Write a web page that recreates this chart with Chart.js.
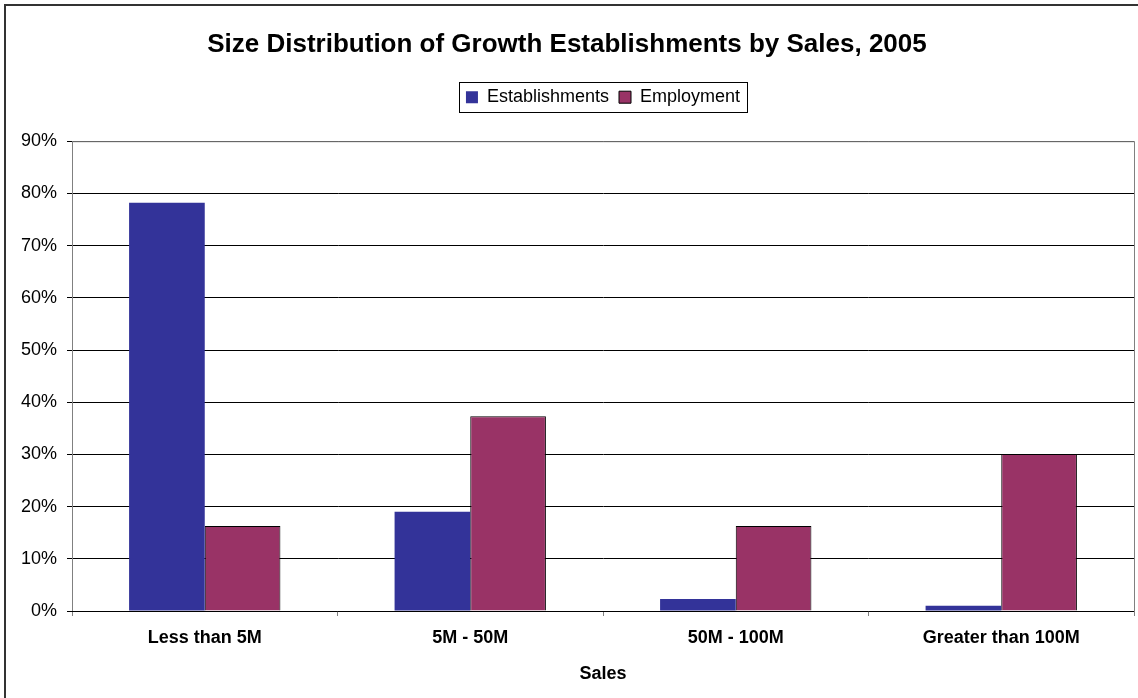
<!DOCTYPE html>
<html>
<head>
<meta charset="utf-8">
<script src="https://cdn.jsdelivr.net/npm/chart.js@4/dist/chart.umd.min.js"></script>
<style>
    body { margin: 0; background: #fff; }
    #wrap { width: 1138px; height: 698px; }
</style>
</head>
<body>
<div id="wrap"><canvas id="salesChart"></canvas></div>
<script>
const categories = ['Less than 5M', '5M - 50M', '50M - 100M', 'Greater than 100M'];
const establishments = [78.2, 19.0, 2.3, 1.0];
const employment = [16.3, 37.3, 16.3, 30.1];
const yTicks = [0, 10, 20, 30, 40, 50, 60, 70, 80, 90];

Chart.defaults.font.family = '"Liberation Sans", Arial, sans-serif';
Chart.defaults.color = '#000';

// frame around the whole chart, the plot area and the legend
const framePlugin = {
    id: 'frames',
    afterInit(chart) {
        const legend = chart.legend;
        const origFit = legend.fit;
        legend.fit = function () {
            origFit.call(this);
            this.height += 25; // gap between legend and plot
        };
    },
    afterLayout(chart) {
        // legend sits a bit right of centre in the original
        chart.legend.left += 36;
        chart.legend.right += 36;
    },
    afterDraw(chart) {
        const ctx = chart.ctx;
        const area = chart.chartArea;
        ctx.save();
        // plot area border
        ctx.strokeStyle = '#808080';
        ctx.lineWidth = 1;
        ctx.strokeRect(area.left + 0.5, area.top + 0.5, area.right - area.left, area.bottom - area.top);
        // zero line
        ctx.strokeStyle = '#000';
        ctx.beginPath();
        ctx.moveTo(area.left, area.bottom + 0.5);
        ctx.lineTo(area.right, area.bottom + 0.5);
        ctx.stroke();
        // legend box
        const boxes = chart.legend.legendHitBoxes;
        if (boxes && boxes.length) {
            const first = boxes[0];
            const last = boxes[boxes.length - 1];
            const x0 = first.left - 7;
            const x1 = last.left + last.width + 7;
            const y0 = first.top - 6;
            const y1 = first.top + first.height + 6;
            ctx.strokeStyle = '#000';
            ctx.strokeRect(Math.round(x0) + 0.5, Math.round(y0) + 0.5, Math.round(x1 - x0), Math.round(y1 - y0));
        }
        // outer chart border
        ctx.strokeStyle = '#333';
        ctx.lineWidth = 2;
        ctx.strokeRect(5, 5, 1150, 720);
        ctx.restore();
    }
};

const ctx = document.getElementById('salesChart').getContext('2d');
new Chart(ctx, {
    type: 'bar',
    data: {
        labels: categories,
        datasets: [{
            label: 'Establishments',
            data: establishments,
            backgroundColor: '#333399',
            borderColor: '#333399',
            borderWidth: 0
        }, {
            label: 'Employment',
            data: employment,
            backgroundColor: '#993366',
            borderColor: '#000',
            borderWidth: 1
        }]
    },
    options: {
        responsive: true,
        maintainAspectRatio: false,
        animation: false,
        layout: { padding: { left: 0, right: 4, top: 0, bottom: 0 } },
        datasets: {
            bar: { categoryPercentage: 0.57, barPercentage: 1.0 }
        },
        plugins: {
            title: {
                display: true,
                text: 'Size Distribution of Growth Establishments by Sales, 2005',
                font: { size: 26, weight: 'bold' },
                color: '#000',
                padding: { top: 29, bottom: 18 }
            },
            legend: {
                position: 'top',
                labels: {
                    boxWidth: 12,
                    boxHeight: 12,
                    padding: 10,
                    font: { size: 18 },
                    color: '#000'
                }
            },
            tooltip: { enabled: false }
        },
        scales: {
            x: {
                grid: {
                    drawOnChartArea: false,
                    offset: true,
                    tickLength: 5,
                    color: '#808080'
                },
                border: { color: '#000' },
                ticks: {
                    font: { size: 18, weight: 'bold' },
                    color: '#000',
                    padding: 11,
                    maxRotation: 0
                },
                title: {
                    display: true,
                    text: 'Sales',
                    font: { size: 18, weight: 'bold' },
                    color: '#000',
                    padding: { top: 0, bottom: 13 }
                },
                afterFit(scale) { scale.height = 87; }
            },
            y: {
                min: 0,
                max: 90,
                afterBuildTicks(scale) {
                    scale.ticks = yTicks.map(v => ({ value: v }));
                },
                grid: {
                    color: '#000',
                    tickLength: 5
                },
                border: { color: '#808080' },
                ticks: {
                    font: { size: 18 },
                    color: '#000',
                    padding: 10,
                    callback: v => v + '%'
                },
                afterFit(scale) { scale.width = 72; }
            }
        }
    },
    plugins: [framePlugin]
});
</script>
</body>
</html>
